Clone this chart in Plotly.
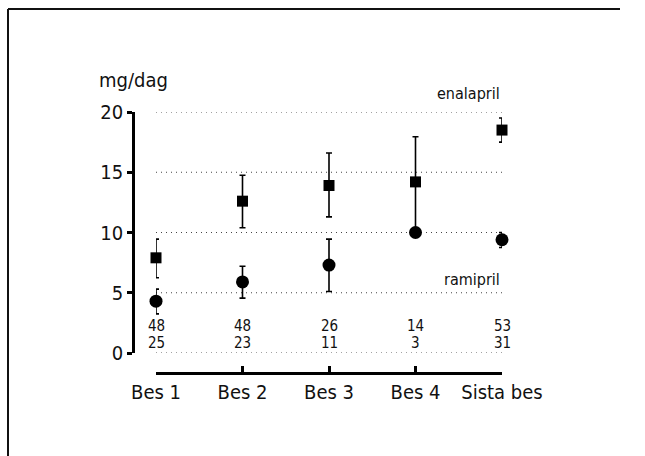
import plotly.graph_objects as go

W, H = 645, 456

categories = ["Bes 1", "Bes 2", "Bes 3", "Bes 4", "Sista bes"]
enalapril = [7.9, 12.6, 13.9, 14.2, 18.5]
enalapril_hi = [9.45, 14.75, 16.6, 17.95, 19.5]
enalapril_lo = [6.25, 10.4, 11.3, 10.0, 17.5]
ramipril = [4.3, 5.9, 7.3, 10.0, 9.4]
ramipril_hi = [5.3, 7.2, 9.45, 10.0, 10.0]
ramipril_lo = [3.25, 4.55, 5.1, 10.0, 8.75]
n_enalapril = [48, 48, 26, 14, 53]
n_ramipril = [25, 23, 11, 3, 31]
y_ticks = [0, 5, 10, 15, 20]

FONT = "DejaVu Sans Condensed, Liberation Sans Narrow, Arial Narrow, sans-serif"

xs = list(range(len(categories)))

def px_x(p):
    return p / W

def px_y(p):
    return 1 - p / H

fig = go.Figure()

fig.add_trace(go.Scatter(
    x=xs, y=enalapril, mode="markers", cliponaxis=False,
    marker=dict(symbol="square", size=11, color="black"),
    error_y=dict(type="data", symmetric=False,
                 array=[h - v for h, v in zip(enalapril_hi, enalapril)],
                 arrayminus=[v - l for l, v in zip(enalapril_lo, enalapril)],
                 color="black", thickness=1.6, width=3),
    showlegend=False,
))
fig.add_trace(go.Scatter(
    x=xs, y=ramipril, mode="markers", cliponaxis=False,
    marker=dict(symbol="circle", size=13, color="black"),
    error_y=dict(type="data", symmetric=False,
                 array=[h - v for h, v in zip(ramipril_hi, ramipril)],
                 arrayminus=[v - l for l, v in zip(ramipril_lo, ramipril)],
                 color="black", thickness=1.6, width=3),
    showlegend=False,
))

shapes = []
for t in y_ticks:
    shapes.append(dict(type="line", xref="x domain", yref="y", x0=0, x1=1, y0=t, y1=t,
                       line=dict(color="#444", width=1, dash="1px,4px"), layer="below"))
# outer frame (only top and left edges are visible in the picture)
shapes.append(dict(type="line", xref="paper", yref="paper",
                   x0=px_x(8), x1=px_x(620), y0=px_y(9), y1=px_y(9),
                   line=dict(color="#111", width=2)))
shapes.append(dict(type="line", xref="paper", yref="paper",
                   x0=px_x(8), x1=px_x(8), y0=0, y1=px_y(9),
                   line=dict(color="#111", width=2)))

annotations = []
for i in xs:
    annotations.append(dict(x=i, y=2.2, xref="x", yref="y", text=str(n_enalapril[i]),
                            showarrow=False, font=dict(family=FONT, size=15, color="#111")))
    annotations.append(dict(x=i, y=0.8, xref="x", yref="y", text=str(n_ramipril[i]),
                            showarrow=False, font=dict(family=FONT, size=15, color="#111")))
annotations.append(dict(x=px_x(97), y=px_y(80), xref="paper", yref="paper", text="mg/dag",
                        xanchor="left", yanchor="middle", showarrow=False,
                        font=dict(family=FONT, size=20, color="#111")))
annotations.append(dict(x=4, y=20, xref="x", yref="y", text="enalapril",
                        xanchor="right", yanchor="bottom", yshift=7, showarrow=False,
                        font=dict(family=FONT, size=16, color="#111")))
annotations.append(dict(x=4, y=5, xref="x", yref="y", text="ramipril",
                        xanchor="right", yanchor="bottom", yshift=2, showarrow=False,
                        font=dict(family=FONT, size=16, color="#111")))

fig.update_layout(
    width=W, height=H, autosize=False,
    margin=dict(l=0, r=0, t=0, b=0, pad=0),
    paper_bgcolor="white", plot_bgcolor="white",
    xaxis=dict(
        domain=[px_x(156), px_x(502)], range=[0, 4],
        anchor="free", position=1 - 373 / H, automargin=False,
        tickmode="array", tickvals=xs, ticktext=categories,
        showline=True, linecolor="black", linewidth=2.5,
        ticks="inside", ticklen=6, tickwidth=2.5, tickcolor="black",
        showgrid=False, zeroline=False,
        tickfont=dict(family=FONT, size=20, color="#111"),
    ),
    yaxis=dict(
        domain=[1 - 353 / H, 1 - 112 / H], range=[0, 20],
        anchor="free", position=px_x(133), automargin=False,
        tickmode="array", tickvals=y_ticks,
        showline=True, linecolor="black", linewidth=2.5,
        ticks="outside", ticklen=5, tickwidth=2.5, tickcolor="black",
        showgrid=False, zeroline=False,
        tickfont=dict(family=FONT, size=20, color="#111"),
    ),
    shapes=shapes,
    annotations=annotations,
)

fig.write_html(
    "out.html",
    config={"displayModeBar": False},
    post_script="document.documentElement.style.overflow='hidden';"
                "document.body.style.margin='0';document.body.style.overflow='hidden';",
)
